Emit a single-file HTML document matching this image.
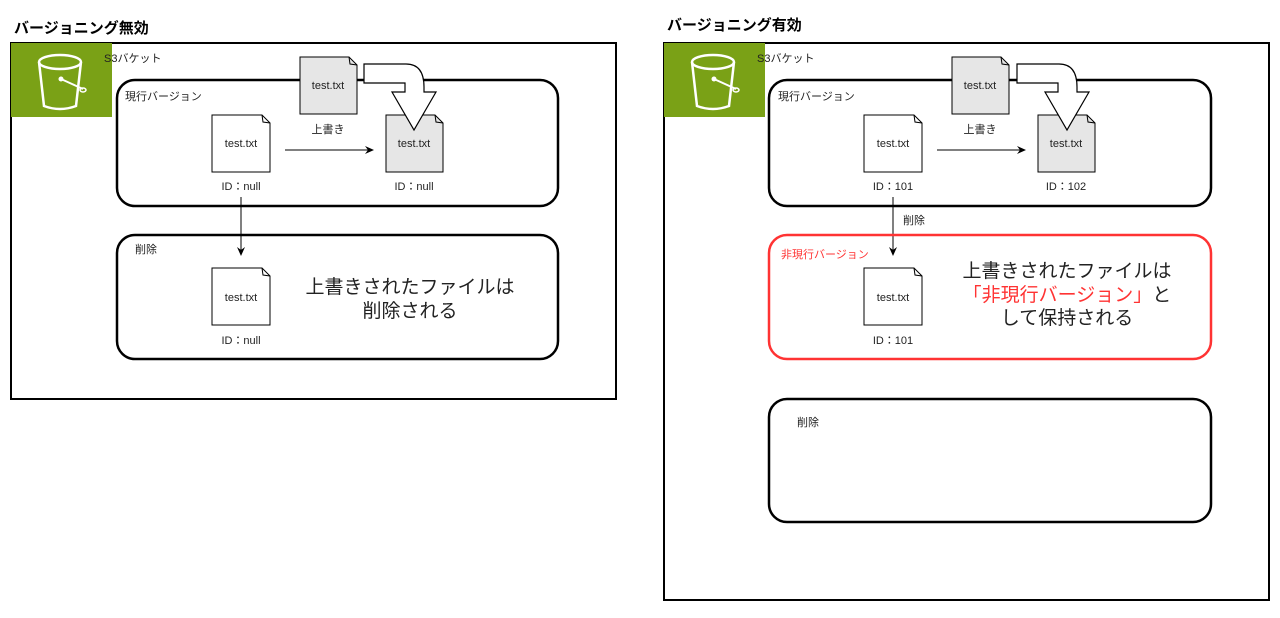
<!DOCTYPE html>
<html><head><meta charset="utf-8"><style>
body{margin:0;background:#fff}
svg{display:block}
text{font-family:"Liberation Sans","Noto Sans CJK JP",sans-serif;fill:#222}
</style></head><body>
<svg width="1280" height="618" viewBox="0 0 1280 618" xmlns="http://www.w3.org/2000/svg">
<defs>
<marker id="ah" markerWidth="10" markerHeight="10" refX="8" refY="5" orient="auto" markerUnits="userSpaceOnUse">
<path d="M0,1 L9,5 L0,9 L3,5 Z" fill="#000"/></marker>
<g id="bucket">
<path d="M13,18 L18,62 Q34,68 50,62 L55,18" fill="none" stroke="#fff" stroke-width="2.5"/>
<ellipse cx="34" cy="18" rx="21" ry="7" fill="none" stroke="#fff" stroke-width="2.5"/>
<line x1="35" y1="35" x2="57" y2="45" stroke="#fff" stroke-width="2"/>
<circle cx="35" cy="35" r="2.5" fill="#fff"/>
<ellipse cx="57" cy="46" rx="3" ry="2" fill="none" stroke="#fff" stroke-width="1.5"/>
</g>
<g id="arrow">
<path d="M0,7 L42,7 Q60,7 60,30 L60,35 L72,35 L50,73 L28,35 L41,35 L41,26 L0,26 Z" fill="#fff" stroke="#000" stroke-width="1.2"/>
</g>
</defs>

<!-- LEFT -->
<text x="14" y="33" font-size="15" font-weight="bold" style="fill:#000">バージョニング無効</text>
<rect x="11" y="43" width="605" height="356" fill="none" stroke="#000" stroke-width="2"/>
<rect x="11" y="43" width="101" height="74" fill="#7aa116"/>
<use href="#bucket" x="26" y="44"/>
<text x="104" y="62" font-size="11">S3バケット</text>
<rect x="117" y="80" width="441" height="126" rx="18" fill="none" stroke="#000" stroke-width="2.5"/>
<text x="125" y="100" font-size="11">現行バージョン</text>
<g>
<path d="M212,115 L262,115 L270,123 L270,172 L212,172 Z" fill="#fff" stroke="#000"/>
<path d="M262,115 L263,122 L270,123" fill="none" stroke="#000"/>
<text x="241" y="147" font-size="11" text-anchor="middle">test.txt</text>
<text x="241" y="190" font-size="11" text-anchor="middle">ID：null</text>
</g>
<line x1="285" y1="150" x2="373" y2="150" stroke="#000" marker-end="url(#ah)"/>
<g>
<path d="M386,115 L435,115 L443,123 L443,172 L386,172 Z" fill="#e6e6e6" stroke="#000"/>
<path d="M435,115 L436,122 L443,123" fill="none" stroke="#000"/>
<text x="414" y="147" font-size="11" text-anchor="middle">test.txt</text>
<text x="414" y="190" font-size="11" text-anchor="middle">ID：null</text>
</g>
<use href="#arrow" x="364" y="57"/>
<g>
<path d="M300,57 L349,57 L357,65 L357,114 L300,114 Z" fill="#e6e6e6" stroke="#000"/>
<path d="M349,57 L350,64 L357,65" fill="none" stroke="#000"/>
<text x="328" y="89" font-size="11" text-anchor="middle">test.txt</text>
<text x="328" y="133" font-size="11" text-anchor="middle">上書き</text>
</g>
<line x1="241" y1="197" x2="241" y2="255" stroke="#000" marker-end="url(#ah)"/>
<rect x="117" y="235" width="441" height="124" rx="18" fill="none" stroke="#000" stroke-width="2.5"/>
<text x="135" y="253" font-size="11">削除</text>
<g>
<path d="M212,268 L262,268 L270,276 L270,325 L212,325 Z" fill="#fff" stroke="#000"/>
<path d="M262,268 L263,275 L270,276" fill="none" stroke="#000"/>
<text x="241" y="301" font-size="11" text-anchor="middle">test.txt</text>
<text x="241" y="344" font-size="11" text-anchor="middle">ID：null</text>
</g>
<text x="410" y="293" font-size="19" text-anchor="middle">上書きされたファイルは</text>
<text x="410" y="317" font-size="19" text-anchor="middle">削除される</text>

<!-- RIGHT -->
<text x="667" y="30" font-size="15" font-weight="bold" style="fill:#000">バージョニング有効</text>
<rect x="664" y="43" width="605" height="557" fill="none" stroke="#000" stroke-width="2"/>
<rect x="664" y="43" width="101" height="74" fill="#7aa116"/>
<use href="#bucket" x="679" y="44"/>
<text x="757" y="62" font-size="11">S3バケット</text>
<rect x="769" y="80" width="442" height="126" rx="18" fill="none" stroke="#000" stroke-width="2.5"/>
<text x="778" y="100" font-size="11">現行バージョン</text>
<g>
<path d="M864,115 L914,115 L922,123 L922,172 L864,172 Z" fill="#fff" stroke="#000"/>
<path d="M914,115 L915,122 L922,123" fill="none" stroke="#000"/>
<text x="893" y="147" font-size="11" text-anchor="middle">test.txt</text>
<text x="893" y="190" font-size="11" text-anchor="middle">ID：101</text>
</g>
<line x1="937" y1="150" x2="1025" y2="150" stroke="#000" marker-end="url(#ah)"/>
<g>
<path d="M1038,115 L1087,115 L1095,123 L1095,172 L1038,172 Z" fill="#e6e6e6" stroke="#000"/>
<path d="M1087,115 L1088,122 L1095,123" fill="none" stroke="#000"/>
<text x="1066" y="147" font-size="11" text-anchor="middle">test.txt</text>
<text x="1066" y="190" font-size="11" text-anchor="middle">ID：102</text>
</g>
<use href="#arrow" x="1017" y="57"/>
<g>
<path d="M952,57 L1001,57 L1009,65 L1009,114 L952,114 Z" fill="#e6e6e6" stroke="#000"/>
<path d="M1001,57 L1002,64 L1009,65" fill="none" stroke="#000"/>
<text x="980" y="89" font-size="11" text-anchor="middle">test.txt</text>
<text x="980" y="133" font-size="11" text-anchor="middle">上書き</text>
</g>
<line x1="893" y1="197" x2="893" y2="255" stroke="#000" marker-end="url(#ah)"/>
<text x="903" y="224" font-size="11">削除</text>
<rect x="769" y="235" width="442" height="124" rx="18" fill="none" stroke="#ff3333" stroke-width="2.5"/>
<text x="781" y="258" font-size="11" style="fill:#ff3333">非現行バージョン</text>
<g>
<path d="M864,268 L914,268 L922,276 L922,325 L864,325 Z" fill="#fff" stroke="#000"/>
<path d="M914,268 L915,275 L922,276" fill="none" stroke="#000"/>
<text x="893" y="301" font-size="11" text-anchor="middle">test.txt</text>
<text x="893" y="344" font-size="11" text-anchor="middle">ID：101</text>
</g>
<text x="1067" y="277" font-size="19" text-anchor="middle">上書きされたファイルは</text>
<text x="1067" y="301" font-size="19" text-anchor="middle"><tspan style="fill:#ff3333">「非現行バージョン」</tspan>と</text>
<text x="1067" y="324" font-size="19" text-anchor="middle">して保持される</text>
<rect x="769" y="399" width="442" height="123" rx="18" fill="none" stroke="#000" stroke-width="2.5"/>
<text x="797" y="426" font-size="11">削除</text>
</svg>
</body></html>
